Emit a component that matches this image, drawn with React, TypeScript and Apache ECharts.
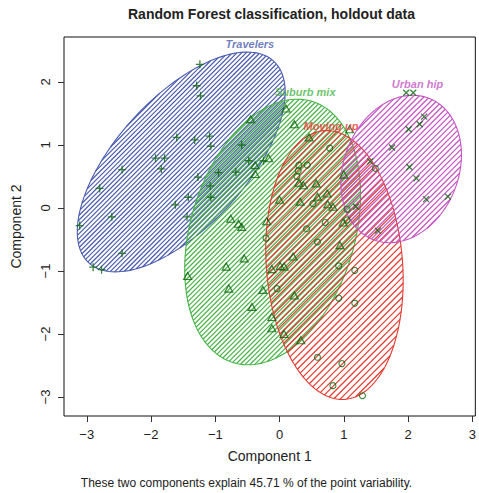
import React, { useEffect, useRef } from 'react';
import * as echarts from 'echarts';

// ---- data ----
const clusterNames = ['Travelers', 'Suburb mix', 'Moving up', 'Urban hip'];
const ellipseCenterX = [-1.53, -0.108, 0.854, 1.892];
const ellipseCenterY = [0.73, -0.381, -0.905, 0.619];
const ellipseA = [2.152, 2.162, 2.139, 1.203];
const ellipseB = [1.014, 1.281, 1.06, 0.895];
const ellipseAngle = [48.4, 74.0, 94.3, 69.6];
const labelX = [-0.462, 0.4, 0.8, 2.146];
const labelY = [2.603, 1.841, 1.302, 1.968];

const travelers: number[][] = [
  [-1.24, 2.28], [-1.29, 1.94], [-1.23, 1.78], [-1.6, 1.12], [-1.32, 1.08], [-1.09, 1.14],
  [-1.07, 0.98], [-0.59, 1.0], [-1.93, 0.79], [-1.79, 0.79], [-1.84, 0.62], [-2.45, 0.61],
  [-1.27, 0.49], [-0.95, 0.56], [-0.68, 0.57], [-0.48, 0.75], [-0.25, 0.75], [-2.8, 0.31],
  [-1.08, 0.35], [-1.07, 0.17], [-1.42, 0.17], [-1.62, 0.05], [-2.61, -0.14], [-1.44, -0.14],
  [-3.11, -0.28], [-2.45, -0.72], [-2.9, -0.94], [-2.77, -0.98],
];
const suburbMix: number[][] = [
  [0.1, 1.58], [-0.45, 1.41], [0.23, 1.33], [0.46, 1.12], [1.09, 1.25], [-0.17, 0.79],
  [-0.38, 0.68], [-0.38, 0.54], [0.3, 0.4], [0.37, 0.36], [0.57, 0.39], [1.0, 0.53],
  [0.0, 0.13], [0.32, 0.1], [0.59, 0.18], [0.74, 0.23], [0.75, 0.06], [0.83, 0.02],
  [-0.2, -0.21], [0.99, -0.23], [-0.76, -0.17], [-0.64, -0.25], [-0.59, -0.3], [0.94, -0.59],
  [-0.55, -0.8], [0.21, -0.77], [-0.83, -0.93], [-0.12, -0.97], [0.01, -0.92], [0.07, -0.93],
  [-0.79, -1.28], [-0.26, -1.3], [0.23, -1.39], [-0.43, -1.57], [-0.12, -1.73], [-0.12, -1.91],
  [0.07, -2.0], [0.33, -2.1], [-1.43, -1.08],
];
const movingUp: number[][] = [
  [0.78, 0.95], [0.3, 0.68], [0.43, 0.68], [0.29, 0.59], [0.27, 0.5], [1.49, 0.63],
  [0.52, 0.07], [1.05, -0.02], [1.05, -0.19], [0.71, -0.23], [0.42, -0.33], [-0.21, -0.48],
  [0.59, -0.54], [-0.04, -1.28], [0.92, -0.92], [1.17, -0.99], [0.92, -1.43], [1.17, -1.51],
  [0.59, -2.37], [0.97, -2.47], [0.83, -2.82], [1.29, -2.98],
];
const urbanHip: number[][] = [
  [1.97, 1.83], [2.08, 1.83], [2.25, 1.45], [2.18, 1.33], [2.01, 1.25], [1.75, 0.96],
  [1.41, 0.74], [2.02, 0.65], [2.13, 0.47], [2.28, 0.14], [2.62, 0.18], [1.19, 0.02],
  [1.53, -0.36],
];
const xTicks = [-3, -2, -1, 0, 1, 2, 3];
const yTicks = [-3, -2, -1, 0, 1, 2];

// ---- styles ----
const clusterColors = ['#4a5cb0', '#46b446', '#e5392f', '#c455c4'];
const hatchSpacing = [4.6, 4.8, 6.6, 5.6];
const pointColor = '#0d650d';
const FONT = '"Liberation Sans", Arial, Helvetica, sans-serif';

const fmt = (v: number) => (v < 0 ? '\u2212' + Math.abs(v) : String(v));

export default function App() {
  const ref = useRef<HTMLDivElement>(null);
  useEffect(() => {
    if (!ref.current) return;
    const chart = echarts.init(ref.current, undefined, { renderer: 'svg' });

    const renderEllipse = (params: any, api: any) => {
      const i = params.dataIndex;
      const cx = ellipseCenterX[i];
      const cy = ellipseCenterY[i];
      const a = ellipseA[i];
      const b = ellipseB[i];
      const th = (ellipseAngle[i] * Math.PI) / 180;
      const color = clusterColors[i];
      const n = 160;
      const pts: number[][] = [];
      for (let k = 0; k < n; k++) {
        const t = (2 * Math.PI * k) / n;
        const dx = a * Math.cos(t) * Math.cos(th) - b * Math.sin(t) * Math.sin(th);
        const dy = a * Math.cos(t) * Math.sin(th) + b * Math.sin(t) * Math.cos(th);
        pts.push(api.coord([cx + dx, cy + dy]));
      }
      const sums = pts.map((p) => p[0] + p[1]);
      const cmin = Math.min(...sums);
      const cmax = Math.max(...sums);
      const step = hatchSpacing[i];
      const children: any[] = [];
      for (let c = Math.ceil(cmin / step) * step; c <= cmax; c += step) {
        const xs: number[] = [];
        for (let k = 0; k < n; k++) {
          const p = pts[k];
          const q = pts[(k + 1) % n];
          const s1 = p[0] + p[1] - c;
          const s2 = q[0] + q[1] - c;
          if ((s1 <= 0 && s2 > 0) || (s1 > 0 && s2 <= 0)) {
            const f = s1 / (s1 - s2);
            xs.push(p[0] + f * (q[0] - p[0]));
          }
        }
        if (xs.length >= 2) {
          const x1 = Math.min(...xs);
          const x2 = Math.max(...xs);
          children.push({
            type: 'line',
            shape: { x1, y1: c - x1, x2, y2: c - x2 },
            style: { stroke: color, lineWidth: 1.2 },
          });
        }
      }
      children.push({
        type: 'polygon',
        shape: { points: pts },
        style: { fill: 'none', stroke: color, lineWidth: 1.1 },
      });
      return { type: 'group', children };
    };

    const pointSeries = (data: number[][], symbol: string, size: any, bw: number) => ({
      type: 'scatter',
      data,
      symbol,
      symbolSize: size,
      z: 3,
      silent: true,
      itemStyle: { color: 'rgba(0,0,0,0)', borderColor: pointColor, borderWidth: bw },
    });

    chart.setOption({
      animation: false,
      grid: {
        left: 64,
        top: 37,
        width: 416,
        height: 379,
        show: true,
        borderColor: '#111',
        borderWidth: 1,
      },
      xAxis: {
        type: 'value',
        min: -3.354,
        max: 3.046,
        name: 'Component 1',
        nameLocation: 'middle',
        nameGap: 33,
        nameTextStyle: { fontSize: 14, color: '#222', fontFamily: FONT },
        axisLine: { show: false, onZero: false },
        splitLine: { show: false },
        axisTick: { show: true, length: 6, lineStyle: { color: '#333' }, customValues: xTicks },
        axisLabel: { customValues: xTicks, formatter: fmt, fontSize: 13, color: '#222', fontFamily: FONT, margin: 12 },
      },
      yAxis: {
        type: 'value',
        min: -3.302,
        max: 2.714,
        name: 'Component 2',
        nameLocation: 'middle',
        nameGap: 41,
        nameTextStyle: { fontSize: 14, color: '#222', fontFamily: FONT },
        axisLine: { show: false, onZero: false },
        splitLine: { show: false },
        axisTick: { show: true, length: 6, lineStyle: { color: '#333' }, customValues: yTicks },
        axisLabel: { customValues: yTicks, formatter: fmt, rotate: 90, fontSize: 13, color: '#222', fontFamily: FONT, margin: 12 },
      },
      series: [
        {
          type: 'custom',
          silent: true,
          z: 1,
          data: clusterNames.map((_, i) => [ellipseCenterX[i], ellipseCenterY[i]]),
          encode: { x: 0, y: 1 },
          renderItem: renderEllipse,
        },
        pointSeries(travelers, 'path://M5,0L5,10M0,5L10,5', 8, 1.3),
        pointSeries(suburbMix, 'triangle', [8, 7], 1.2),
        pointSeries(movingUp, 'circle', 6, 1.1),
        pointSeries(urbanHip, 'path://M0,0L10,10M10,0L0,10', 6, 1.3),
        {
          type: 'scatter',
          silent: true,
          z: 4,
          symbolSize: 0,
          data: clusterNames.map((name, i) => ({
            value: [labelX[i], labelY[i]],
            name,
            label: { color: clusterColors[i] },
          })),
          label: {
            show: true,
            position: 'inside',
            formatter: (p: any) => p.name,
            fontSize: 11,
            fontStyle: 'italic',
            fontWeight: 'bold',
            fontFamily: FONT,
          },
        },
      ],
      graphic: [
        {
          type: 'text',
          x: 271.5,
          y: 14,
          style: {
            text: 'Random Forest classification, holdout data',
            font: `bold 14px ${FONT}`,
            fill: '#222',
            align: 'center',
            verticalAlign: 'middle',
          },
        },
        {
          type: 'text',
          x: 246.5,
          y: 483,
          style: {
            text: 'These two components explain 45.71 % of the point variability.',
            font: `12px ${FONT}`,
            fill: '#222',
            align: 'center',
            verticalAlign: 'middle',
          },
        },
      ],
    });
    return () => chart.dispose();
  }, []);
  return (
    <div
      ref={ref}
      style={{ position: 'absolute', left: 0, top: 0, width: 479, height: 493 }}
    />
  );
}
